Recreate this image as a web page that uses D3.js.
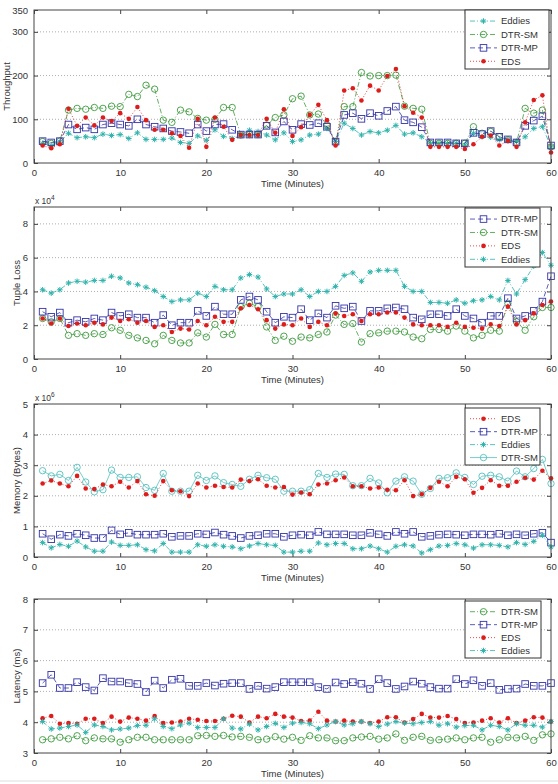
<!DOCTYPE html>
<html><head><meta charset="utf-8">
<script src="https://cdn.jsdelivr.net/npm/d3@7"></script>
<style>body{margin:0;background:#fff}svg{display:block;font-family:Arial,"Liberation Sans",sans-serif}</style>
</head><body><svg id="c" width="558" height="784"></svg>
<script>
const minutes = d3.range(1, 61);
const seriesNames = ["Eddies", "DTR-SM", "DTR-MP", "EDS"];

// Panel 1: Throughput
const throughputEddies = [45,40,48,68,58,60,58,66,63,65, 56,69,54,54,54,57,47,45,62,52, 76,61,56,64,75,72,64,53,69,49, 53,64,66,79,49,91,79,64,72,69, 75,86,66,69,60,45,45,45,45,41, 68,60,59,53,53,49,60,79,83,37];
const throughputDtrSm = [49,45,50,121,125,123,127,125,130,129, 157,152,178,169,98,93,121,117,102,98, 100,127,127,64,65,65,87,104,110,147, 153,110,112,87,49,129,129,207,199,200, 200,201,130,125,123,45,45,45,45,45, 83,68,72,60,53,47,125,114,121,37];
const throughputDtrMp = [50,47,50,88,77,81,77,88,91,88, 85,100,88,83,79,73,71,68,88,73, 88,89,76,65,65,65,85,70,95,76, 89,87,91,83,49,110,114,101,114,108, 119,129,98,93,82,47,47,47,45,45, 69,66,73,60,54,47,85,97,107,40];
const throughputEds = [40,34,43,124,85,104,86,104,96,114, 101,128,98,76,76,68,62,35,101,37, 104,83,53,64,64,64,101,69,123,62, 82,110,133,98,40,166,171,143,177,166, 199,215,130,115,104,37,37,37,37,32, 43,60,63,40,51,37,93,144,155,24];
const throughputTicks = [0,100,200,300,350];

// Panel 2: Tuple Loss (x 10^4)
const tupleLossEddies = [4.1,3.9,4.1,4.5,4.6,4.55,4.65,4.65,4.9,4.8, 4.5,4.4,4.25,4.05,3.7,3.4,3.5,3.5,3.9,3.7, 4.3,4.1,4.1,4.8,5.0,4.85,4.15,3.7,3.85,3.85, 4.1,3.7,4.0,4.0,4.3,4.95,5.1,4.6,5.15,5.25, 5.25,5.25,4.3,4.0,4.0,3.35,3.35,3.3,3.5,3.3, 3.45,3.5,3.7,3.5,4.65,3.85,4.7,5.5,6.3,5.55];
const tupleLossDtrSm = [2.4,2.2,2.4,1.4,1.5,1.4,1.5,1.45,1.85,1.7, 1.4,1.25,1.1,0.9,1.4,1.1,0.95,0.95,1.55,1.3, 2.05,1.45,1.45,3.1,3.3,3.1,1.9,1.1,1.35,1.05, 1.3,1.25,1.45,1.6,2.6,2.05,2.1,1.0,1.5,1.55, 1.65,1.65,1.6,1.3,1.2,1.75,1.75,1.65,1.95,1.65, 1.25,1.4,1.7,1.65,3.3,2.2,1.7,2.5,3.05,3.05];
const tupleLossDtrMp = [2.8,2.5,2.75,2.15,2.3,2.2,2.4,2.3,2.75,2.55, 2.65,2.45,2.45,2.15,2.6,2.0,2.15,2.15,2.85,2.55, 3.1,2.65,2.65,3.5,3.7,3.5,2.8,2.15,2.5,2.45, 2.95,2.3,2.7,2.45,3.15,3.0,3.1,2.25,2.85,2.85, 3.0,3.05,2.95,2.45,2.35,2.65,2.65,2.55,2.95,2.55, 2.4,2.15,2.55,2.55,3.6,2.4,2.55,2.85,3.4,4.9];
const tupleLossEds = [2.4,2.1,2.4,1.95,2.1,2.0,2.15,2.05,2.45,2.25, 2.35,2.15,2.25,1.9,2.0,1.6,1.8,1.75,2.25,2.0, 2.5,2.2,2.2,3.0,3.2,2.95,2.3,1.8,2.05,2.0, 2.4,1.9,2.2,2.0,2.7,2.55,2.65,2.25,2.65,2.65, 2.75,2.75,2.45,2.05,2.0,2.0,2.0,1.9,2.15,1.9, 1.85,1.8,2.05,1.95,3.1,2.05,2.3,2.7,3.2,3.4];
const tupleLossTicks = [0,2,4,6,8];

// Panel 3: Memory (Bytes, x 10^6)
const memoryEds = [2.4,2.5,2.4,2.31,2.65,2.24,2.22,2.37,2.31,2.46, 2.27,2.48,2.05,2.0,2.48,2.18,2.15,1.99,2.4,2.27, 2.33,2.29,2.27,2.53,2.48,2.54,2.33,2.27,2.29,2.04, 2.11,2.05,2.37,2.4,2.51,2.6,2.31,2.31,2.24,2.27, 2.2,2.18,2.51,1.99,2.05,2.26,2.46,2.31,2.62,2.54, 2.1,2.26,2.51,2.33,2.33,2.46,2.59,2.53,2.82,2.57];
const memoryDtrMp = [0.76,0.58,0.73,0.69,0.76,0.71,0.62,0.62,0.87,0.74, 0.79,0.73,0.73,0.73,0.76,0.66,0.69,0.69,0.76,0.74, 0.8,0.73,0.69,0.62,0.69,0.71,0.76,0.76,0.66,0.71, 0.73,0.71,0.82,0.74,0.74,0.74,0.71,0.71,0.79,0.74, 0.69,0.82,0.76,0.82,0.66,0.69,0.73,0.74,0.73,0.71, 0.74,0.74,0.73,0.76,0.71,0.74,0.71,0.76,0.79,0.47];
const memoryEddies = [0.47,0.3,0.41,0.35,0.52,0.33,0.19,0.19,0.49,0.38, 0.38,0.4,0.24,0.2,0.44,0.16,0.16,0.16,0.4,0.35, 0.4,0.35,0.33,0.27,0.36,0.44,0.4,0.38,0.16,0.16, 0.19,0.19,0.46,0.4,0.44,0.44,0.27,0.27,0.36,0.27, 0.16,0.35,0.4,0.36,0.13,0.24,0.36,0.38,0.44,0.4, 0.29,0.4,0.4,0.38,0.33,0.47,0.41,0.51,0.71,0.33];
const memoryDtrSm = [2.82,2.65,2.7,2.5,2.93,2.45,2.13,2.2,2.84,2.6, 2.6,2.62,2.27,2.18,2.73,2.15,2.15,2.15,2.67,2.5, 2.65,2.43,2.37,2.31,2.54,2.67,2.59,2.54,2.15,2.15, 2.15,2.2,2.73,2.6,2.71,2.7,2.33,2.33,2.57,2.42, 2.1,2.48,2.62,2.48,2.05,2.24,2.57,2.59,2.75,2.6, 2.37,2.64,2.67,2.62,2.48,2.81,2.62,2.89,3.19,2.4];
const memoryTicks = [0,1,2,3,4,5];

// Panel 4: Latency (ms)
const latencyDtrSm = [3.43,3.46,3.51,3.46,3.56,3.4,3.49,3.46,3.46,3.35, 3.43,3.51,3.51,3.43,3.43,3.43,3.43,3.43,3.56,3.57, 3.54,3.57,3.52,3.54,3.51,3.43,3.45,3.53,3.45,3.51, 3.41,3.56,3.49,3.49,3.4,3.4,3.49,3.52,3.54,3.45, 3.49,3.62,3.41,3.51,3.54,3.41,3.43,3.45,3.49,3.43, 3.49,3.51,3.35,3.43,3.51,3.49,3.54,3.41,3.59,3.62];
const latencyDtrMp = [5.27,5.54,5.11,5.11,5.3,5.14,5.03,5.43,5.32,5.32, 5.27,5.24,4.98,5.35,5.11,5.38,5.41,5.18,5.18,5.27, 5.19,5.25,5.27,5.27,5.08,5.18,5.09,5.14,5.3,5.3, 5.3,5.3,5.14,5.08,5.29,5.24,5.3,5.25,5.08,5.4, 5.27,5.08,5.16,5.32,5.25,5.14,5.09,5.09,5.4,5.24, 5.36,5.18,5.27,5.05,5.08,5.09,5.24,5.18,5.18,5.27];
const latencyEds = [4.13,4.2,3.95,3.97,3.95,4.11,4.11,3.97,4.18,4.02, 4.15,4.11,4.05,4.2,3.97,3.99,4.02,4.11,4.08,4.04, 4.04,4.11,4.21,4.18,3.99,4.18,4.13,4.27,4.18,4.15, 4.04,4.05,4.34,4.05,4.02,4.05,4.02,4.02,3.97,4.02, 4.16,4.16,3.99,4.1,4.27,4.15,4.15,4.2,4.1,3.97, 3.99,4.05,4.13,3.99,4.13,3.97,4.05,4.16,4.15,4.02];
const latencyEddies = [4.02,3.78,3.81,3.86,3.91,3.67,3.91,3.86,3.75,3.78, 3.81,3.89,3.9,4.11,3.86,3.79,3.91,3.97,3.83,3.83, 3.83,4.11,3.81,3.78,3.94,3.75,3.86,3.96,3.83,3.97, 3.99,3.95,3.79,3.91,4.02,3.91,3.95,4.02,3.95,3.86, 3.94,4.02,3.97,3.95,3.99,4.02,3.9,3.95,3.84,3.89, 3.9,3.75,3.9,3.86,3.75,3.95,3.9,3.9,3.84,4.02];
const latencyTicks = [3,4,5,6,7,8];

const xTicks = [0,10,20,30,40,50,60];

// styles
const STY = {
  "Eddies": {color:"#2fb3ab", dash:"5,2,1,2", marker:"star"},
  "DTR-SM": {color:"#3c9a3c", dash:"5,2,1,2", marker:"circle"},
  "DTR-MP": {color:"#3434a8", dash:"5,3", marker:"square"},
  "EDS":    {color:"#dd1c1c", dash:"1,2", marker:"dot"}
};
const STY_SM_MEM = {color:"#55c0bf", dash:null, marker:"circle"};

const panels = [
  {top:10, bottom:163, domain:[0,350], ticks:throughputTicks, grid:[100,200,300], ylabel:"Throughput", ylabX:7, exp:null,
   series:[["Eddies",throughputEddies],["DTR-SM",throughputDtrSm],["DTR-MP",throughputDtrMp],["EDS",throughputEds]],
   legend:{x:465,y:10,w:84,h:59,order:["Eddies","DTR-SM","DTR-MP","EDS"]}},
  {top:207, bottom:359, domain:[0,9], ticks:tupleLossTicks, grid:[2,4,6,8], ylabel:"Tuple Loss", ylabX:17, exp:"4",
   series:[["Eddies",tupleLossEddies],["DTR-SM",tupleLossDtrSm],["DTR-MP",tupleLossDtrMp],["EDS",tupleLossEds]],
   legend:{x:465,y:208,w:75,h:59,order:["DTR-MP","DTR-SM","EDS","Eddies"]}},
  {top:404, bottom:557, domain:[0,5], ticks:memoryTicks, grid:[1,2,3,4], ylabel:"Memory (Bytes)", ylabX:17, exp:"6",
   series:[["DTR-SM",memoryDtrSm],["EDS",memoryEds],["DTR-MP",memoryDtrMp],["Eddies",memoryEddies]],
   legend:{x:465,y:408,w:75,h:57,order:["EDS","DTR-MP","Eddies","DTR-SM"]}, smAlt:true},
  {top:599, bottom:753, domain:[3,8], ticks:latencyTicks, grid:[4,5,6,7], ylabel:"Latency (ms)", ylabX:17, exp:null,
   series:[["DTR-SM",latencyDtrSm],["DTR-MP",latencyDtrMp],["EDS",latencyEds],["Eddies",latencyEddies]],
   legend:{x:465,y:601,w:76,h:57,order:["DTR-SM","DTR-MP","EDS","Eddies"]}}
];

const svg = d3.select("#c");
const L = 34, R = 551;
const x = d3.scaleLinear().domain([0,60]).range([L,R]);
const AX = "#444", TXT = "#333";

function drawMarker(g, type, cx, cy, color) {
  if (type === "circle") {
    g.append("circle").attr("cx",cx).attr("cy",cy).attr("r",3.2).attr("fill","none").attr("stroke",color).attr("stroke-width",0.9);
  } else if (type === "square") {
    g.append("rect").attr("x",cx-3.3).attr("y",cy-3.3).attr("width",6.6).attr("height",6.6).attr("fill","none").attr("stroke",color).attr("stroke-width",0.9);
  } else if (type === "dot") {
    g.append("circle").attr("cx",cx).attr("cy",cy).attr("r",2.3).attr("fill",color);
  } else if (type === "star") {
    const s = 2.8, d = 2.0;
    const p = `M${cx-s},${cy}H${cx+s}M${cx},${cy-s}V${cy+s}M${cx-d},${cy-d}L${cx+d},${cy+d}M${cx-d},${cy+d}L${cx+d},${cy-d}`;
    g.append("path").attr("d",p).attr("stroke",color).attr("stroke-width",1).attr("fill","none");
  }
}

panels.forEach(p => {
  const y = d3.scaleLinear().domain(p.domain).range([p.bottom, p.top]);
  const g = svg.append("g");
  const styleOf = name => (p.smAlt && name === "DTR-SM") ? STY_SM_MEM : STY[name];

  // grid
  g.selectAll(null).data(p.grid).enter().append("line")
    .attr("x1",L).attr("x2",R).attr("y1",d=>y(d)).attr("y2",d=>y(d))
    .attr("stroke","#999").attr("stroke-width",0.8).attr("stroke-dasharray","1,2");

  // axes
  const bottomAx = d3.axisBottom(x).tickValues(xTicks).tickSize(-4).tickPadding(6).tickFormat(d3.format("d"));
  const topAx = d3.axisTop(x).tickValues(xTicks).tickSize(-4).tickFormat("");
  const leftAx = d3.axisLeft(y).tickValues(p.ticks).tickSize(-4).tickPadding(6).tickFormat(d3.format("d"));
  const rightAx = d3.axisRight(y).tickValues(p.ticks).tickSize(-4).tickFormat("");
  const style = sel => {
    sel.select(".domain").remove();
    sel.selectAll("line").attr("stroke",AX);
    sel.selectAll("text").attr("fill",TXT).style("font-size","9.5px").style("font-family","Arial, 'Liberation Sans', sans-serif");
  };
  g.append("g").attr("transform",`translate(0,${p.bottom})`).call(bottomAx).call(style);
  g.append("g").attr("transform",`translate(0,${p.top})`).call(topAx).call(style);
  g.append("g").attr("transform",`translate(${L},0)`).call(leftAx).call(style);
  g.append("g").attr("transform",`translate(${R},0)`).call(rightAx).call(style);

  // series
  p.series.forEach(([name, vals]) => {
    const st = styleOf(name);
    const line = d3.line().x((d,i)=>x(minutes[i])).y(d=>y(d));
    g.append("path").attr("d",line(vals)).attr("fill","none").attr("stroke",st.color)
      .attr("stroke-width",0.8).attr("stroke-dasharray",st.dash);
    const mg = g.append("g");
    vals.forEach((v,i) => drawMarker(mg, st.marker, x(minutes[i]), y(v), st.color));
  });

  // frame
  g.append("rect").attr("x",L).attr("y",p.top).attr("width",R-L).attr("height",p.bottom-p.top)
    .attr("fill","none").attr("stroke",AX).attr("stroke-width",1);

  // labels
  g.append("text").attr("x",(L+R)/2).attr("y",p.bottom+24).attr("text-anchor","middle")
    .attr("fill",TXT).style("font-size","9.5px").text("Time (Minutes)");
  g.append("text").attr("transform",`translate(${p.ylabX+3},${(p.top+p.bottom)/2}) rotate(-90)`)
    .attr("text-anchor","middle").attr("fill",TXT).style("font-size","9.5px").text(p.ylabel);
  if (p.exp) {
    const t = g.append("text").attr("x",L+1).attr("y",p.top-3).attr("fill",TXT).style("font-size","8.5px");
    t.append("tspan").text("x 10");
    t.append("tspan").attr("dy",-4).style("font-size","6.5px").text(p.exp);
  }

  // legend
  const lg = p.legend;
  const leg = g.append("g");
  leg.append("rect").attr("x",lg.x).attr("y",lg.y).attr("width",lg.w).attr("height",lg.h)
    .attr("fill","#fff").attr("stroke","#333").attr("stroke-width",1);
  const rowH = lg.h / 4.4;
  lg.order.forEach((name,i) => {
    const st = styleOf(name);
    const cy = lg.y + rowH*0.75 + rowH*i + 1;
    leg.append("line").attr("x1",lg.x+5).attr("x2",lg.x+32).attr("y1",cy).attr("y2",cy)
      .attr("stroke",st.color).attr("stroke-width",0.8).attr("stroke-dasharray",st.dash);
    drawMarker(leg, st.marker, lg.x+18.5, cy, st.color);
    leg.append("text").attr("x",lg.x+36).attr("y",cy+3.3).attr("fill",TXT).style("font-size","9.5px").text(name);
  });
});

// bottom frame line of the figure
svg.append("line").attr("x1",0).attr("x2",558).attr("y1",781).attr("y2",781).attr("stroke","#ddd").attr("stroke-width",1);
</script></body></html>
